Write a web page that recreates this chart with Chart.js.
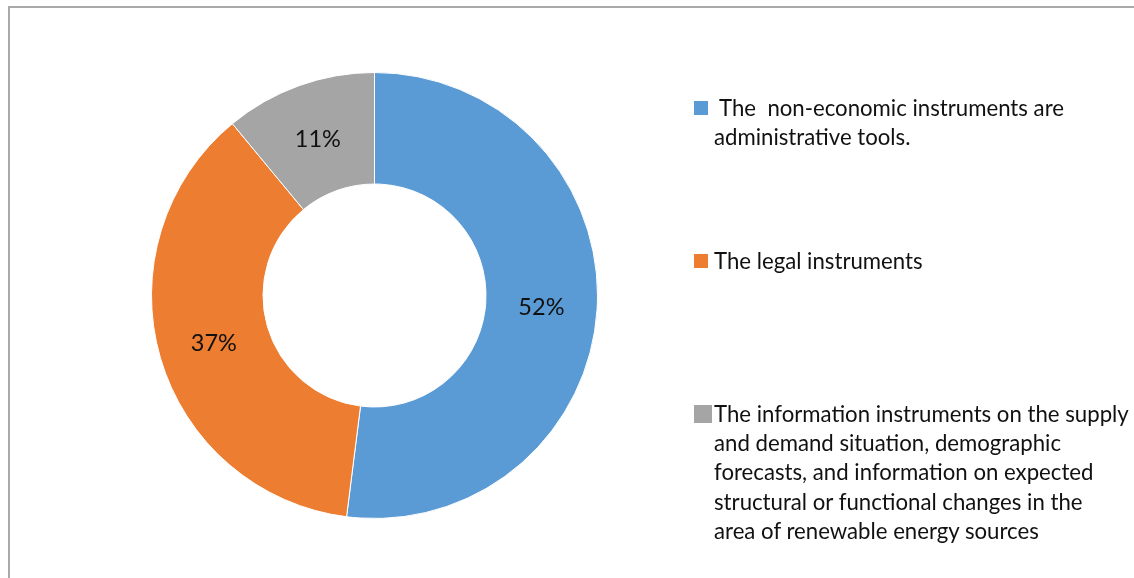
<!DOCTYPE html>
<html>
<head>
<meta charset="utf-8">
<script src="https://cdn.jsdelivr.net/npm/chart.js@4/dist/chart.umd.min.js"></script>
<style>
  html, body { margin: 0; padding: 0; background: #fff; overflow: hidden; }
  #wrap { position: relative; width: 1134px; height: 578px; }
  #frame { position: absolute; left: 8px; top: 6px; width: 1200px; height: 700px;
           border: 2px solid #a9a9a9; box-sizing: border-box; }
  #myChart { position: absolute; left: 0; top: 0; }
  .item { position: absolute; left: 694px; font-family: Lato, sans-serif; font-size: 22.2px;
          line-height: 29.2px; color: #111; }
  .item .box { position: absolute; left: 0; }
  .item .txt { position: absolute; left: 20px; white-space: pre; }
</style>
</head>
<body>
<div id="wrap">
  <div id="frame"></div>
  <canvas id="myChart" width="1134" height="578"></canvas>
  <div id="legend"></div>
</div>
<script>
var labels = [
    ' The  non-economic instruments are\nadministrative tools.',
    'The legal instruments',
    'The information instruments on the supply\nand demand situation, demographic\nforecasts, and information on expected\nstructural or functional changes in the\narea of renewable energy sources'
];
var values = [52, 37, 11];
var colors = ['#5b9bd5', '#ed7d31', '#a5a5a5'];

// legend placement, one entry per slice
var legendTop = [93, 246, 399];
var boxSize = [14, 14, 18];

// percentages written in the middle of each ring segment
var pctLabels = {
    id: 'pctLabels',
    afterDatasetsDraw: function(chart) {
        var ctx = chart.ctx;
        var meta = chart.getDatasetMeta(0);
        var total = values.reduce(function(a, b) { return a + b; }, 0);
        ctx.save();
        ctx.font = '23.5px Lato, sans-serif';
        ctx.fillStyle = '#111';
        ctx.textAlign = 'center';
        ctx.textBaseline = 'middle';
        meta.data.forEach(function(arc, i) {
            var p = arc.tooltipPosition(true);
            ctx.fillText(Math.round(values[i] / total * 100) + '%', p.x, p.y + 1);
        });
        ctx.restore();
    }
};

var ctx = document.getElementById("myChart").getContext("2d");
var myChart = new Chart(ctx, {
    type: 'doughnut',
    data: {
        labels: labels,
        datasets: [{
            data: values,
            backgroundColor: colors,
            borderColor: '#ffffff',
            borderWidth: 1
        }]
    },
    options: {
        responsive: false,
        animation: false,
        cutout: '50%',
        layout: { padding: { left: 151, top: 72, right: 536, bottom: 59 } },
        plugins: {
            legend: { display: false },
            tooltip: { enabled: false }
        }
    },
    plugins: [pctLabels]
});

// html legend so long labels can wrap over several lines
var legend = document.getElementById('legend');
labels.forEach(function(text, i) {
    var item = document.createElement('div');
    item.className = 'item';
    item.style.top = legendTop[i] + 'px';
    var box = document.createElement('span');
    box.className = 'box';
    box.style.width = boxSize[i] + 'px';
    box.style.height = boxSize[i] + 'px';
    box.style.top = (15 - boxSize[i] / 2) + 'px';
    box.style.background = colors[i];
    var txt = document.createElement('span');
    txt.className = 'txt';
    txt.textContent = text;
    item.appendChild(box);
    item.appendChild(txt);
    legend.appendChild(item);
});
</script>
</body>
</html>
